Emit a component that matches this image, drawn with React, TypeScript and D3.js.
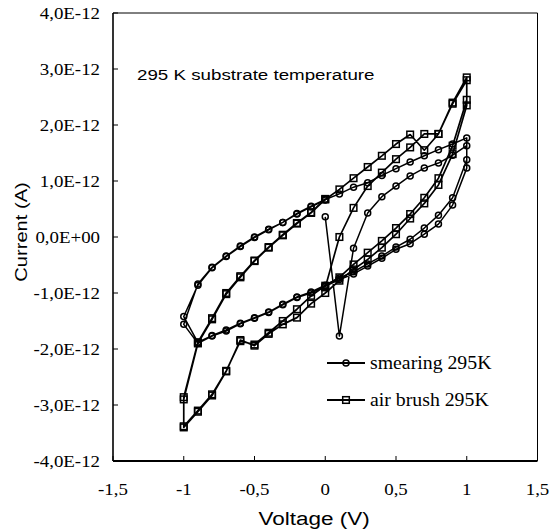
import React from "react";
import * as d3 from "d3";

// ---- data (current in units of 1e-12 A) ----
const smearingVoltage = [
  0, 0.1, 0.2, 0.3, 0.4, 0.5, 0.6, 0.7, 0.8, 0.9, 1.0,
  1.0, 0.9, 0.8, 0.7, 0.6, 0.5, 0.4, 0.3, 0.2, 0.1, 0, -0.1, -0.2, -0.3, -0.4, -0.5, -0.6, -0.7, -0.8, -0.9, -1.0,
  -0.9, -0.8, -0.7, -0.6, -0.5, -0.4, -0.3, -0.2, -0.1, 0, 0.1, 0.2, 0.3, 0.4, 0.5, 0.6, 0.7, 0.8, 0.9, 1.0, 1.0,
  0.9, 0.8, 0.7, 0.6, 0.5, 0.4, 0.3, 0.2, 0.1, 0, -0.1, -0.2, -0.3, -0.4, -0.5, -0.6, -0.7, -0.8, -0.9, -1.0,
  -0.9, -0.8, -0.7, -0.6, -0.5, -0.4, -0.3, -0.2, -0.1, 0,
];
const smearingCurrent = [
  0.36, -1.77, -0.2, 0.43, 0.72, 0.91, 1.09, 1.23, 1.32, 1.46, 1.63,
  1.23, 0.57, 0.23, 0.05, -0.12, -0.22, -0.38, -0.52, -0.66, -0.76, -0.88, -1.0, -1.08, -1.21, -1.35, -1.45, -1.55, -1.68, -1.77, -1.9, -1.56,
  -0.84, -0.54, -0.34, -0.16, 0.0, 0.14, 0.26, 0.42, 0.55, 0.67, 0.77, 0.89, 0.97, 1.1, 1.22, 1.34, 1.45, 1.56, 1.66, 1.77, 1.38,
  0.7, 0.39, 0.16, -0.04, -0.18, -0.34, -0.48, -0.62, -0.73, -0.86, -0.98, -1.07, -1.2, -1.34, -1.44, -1.54, -1.66, -1.76, -1.88, -1.42,
  -0.86, -0.55, -0.35, -0.17, -0.01, 0.13, 0.26, 0.41, 0.54, 0.66,
];
const airBrushVoltage = [
  0, 0.1, 0.2, 0.3, 0.4, 0.5, 0.6, 0.7, 0.8, 0.9, 1.0, 1.0,
  0.9, 0.8, 0.7, 0.6, 0.5, 0.4, 0.3, 0.2, 0.1, 0, -0.1, -0.2, -0.3, -0.4, -0.5, -0.6, -0.7, -0.8, -0.9, -1.0, -1.0,
  -0.9, -0.8, -0.7, -0.6, -0.5, -0.4, -0.3, -0.2, -0.1, 0, 0.1, 0.2, 0.3, 0.4, 0.5, 0.6, 0.7, 0.8, 0.9, 1.0, 1.0,
  0.9, 0.8, 0.7, 0.6, 0.5, 0.4, 0.3, 0.2, 0.1, 0, -0.1, -0.2, -0.3, -0.4, -0.5, -0.6, -0.7, -0.8, -0.9, -1.0, -1.0,
  -0.9, -0.8, -0.7, -0.6, -0.5, -0.4, -0.3, -0.2, -0.1, 0,
];
const airBrushCurrent = [
  -0.9, 0.0, 0.52, 0.91, 1.15, 1.39, 1.6, 1.84, 1.84, 2.4, 2.85, 2.45,
  1.63, 1.05, 0.7, 0.41, 0.16, -0.07, -0.28, -0.49, -0.72, -0.87, -1.05, -1.29, -1.5, -1.71, -1.92, -1.86, -2.39, -2.81, -3.1, -3.38, -2.9,
  -1.9, -1.47, -1.02, -0.72, -0.43, -0.19, 0.03, 0.24, 0.43, 0.67, 0.85, 1.05, 1.25, 1.45, 1.66, 1.83, 1.55, 1.84, 2.38, 2.8, 2.35,
  1.48, 0.93, 0.6, 0.33, 0.05, -0.19, -0.4, -0.58, -0.78, -1.0, -1.19, -1.44, -1.56, -1.73, -1.94, -1.84, -2.4, -2.83, -3.12, -3.4, -2.86,
  -1.88, -1.45, -1.0, -0.7, -0.42, -0.18, 0.04, 0.25, 0.44, 0.68,
];

const xTickValues = [-1.5, -1, -0.5, 0, 0.5, 1, 1.5];
const xTickLabels = ["-1,5", "-1", "-0,5", "0", "0,5", "1", "1,5"];
const yTickValues = [4, 3, 2, 1, 0, -1, -2, -3, -4];
const yTickLabels = ["4,0E-12", "3,0E-12", "2,0E-12", "1,0E-12", "0,0E+00", "-1,0E-12", "-2,0E-12", "-3,0E-12", "-4,0E-12"];
const seriesNames = ["smearing 295K", "air brush 295K"];
const annotation = "295 K substrate temperature";
const xTitle = "Voltage (V)";
const yTitle = "Current (A)";

const W = 554;
const H = 529;
const plot = { left: 113, right: 537.5, top: 13, bottom: 461 };
const serif = "'Liberation Serif', 'Times New Roman', serif";
const sans = "'Liberation Sans', Arial, sans-serif";
const SX = 1.18;

export default function App() {
  const x = d3.scaleLinear().domain([-1.5, 1.5]).range([plot.left, plot.right]);
  const y = d3.scaleLinear().domain([-4, 4]).range([plot.bottom, plot.top]);

  const smearing = smearingVoltage.map((v, i) => [v, smearingCurrent[i]] as [number, number]);
  const airBrush = airBrushVoltage.map((v, i) => [v, airBrushCurrent[i]] as [number, number]);
  const line = d3.line<[number, number]>().x((d) => x(d[0])).y((d) => y(d[1]));

  const circle = (cx: number, cy: number, key: string | number) => (
    <circle key={key} cx={cx} cy={cy} r={3} fill="none" stroke="#000" strokeWidth={1.5} />
  );
  const square = (cx: number, cy: number, key: string | number) => (
    <rect key={key} x={cx - 3.3} y={cy - 3.3} width={6.6} height={6.6} fill="none" stroke="#000" strokeWidth={1.5} />
  );

  const legendY = [363, 400];
  const legendX0 = 327;
  const legendX1 = 365;

  return (
    <svg width={W} height={H} style={{ position: "absolute", left: 0, top: 0, background: "#fff" }}>
      <rect x={0} y={0} width={W} height={H} fill="#fff" />
      {/* frame */}
      <line x1={plot.left} x2={plot.right} y1={plot.top} y2={plot.top} stroke="#000" strokeWidth={1} />
      <line x1={plot.right} x2={plot.right} y1={plot.top} y2={plot.bottom} stroke="#000" strokeWidth={1} />
      <line x1={plot.left} x2={plot.left} y1={plot.top} y2={plot.bottom} stroke="#000" strokeWidth={1.6} />
      <line x1={plot.left} x2={plot.right} y1={plot.bottom} y2={plot.bottom} stroke="#000" strokeWidth={2} />

      {/* y ticks */}
      {yTickValues.map((v, i) => (
        <g key={"yt" + i}>
          <line x1={plot.left} x2={plot.left + 5} y1={y(v)} y2={y(v)} stroke="#000" strokeWidth={1} />
          <text
            transform={`translate(100,${y(v) + 5.5}) scale(${SX},1)`}
            textAnchor="end"
            fontFamily={serif}
            fontSize={16}
            fill="#000"
          >
            {yTickLabels[i]}
          </text>
        </g>
      ))}
      {/* x ticks */}
      {xTickValues.map((v, i) => (
        <g key={"xt" + i}>
          <line x1={x(v)} x2={x(v)} y1={plot.bottom} y2={plot.bottom - 5} stroke="#000" strokeWidth={1} />
          <text
            transform={`translate(${x(v)},495) scale(${SX},1)`}
            textAnchor="middle"
            fontFamily={serif}
            fontSize={16}
            fill="#000"
          >
            {xTickLabels[i]}
          </text>
        </g>
      ))}

      {/* axis titles */}
      <text transform={`translate(314,525) scale(1.25,1)`} textAnchor="middle" fontFamily={sans} fontSize={18} fill="#000">
        {xTitle}
      </text>
      <text transform={`translate(27,232) rotate(-90) scale(1.22,1)`} textAnchor="middle" fontFamily={sans} fontSize={16.5} fill="#000">
        {yTitle}
      </text>

      {/* annotation */}
      <text transform={`translate(137,80) scale(1.25,1)`} fontFamily={sans} fontSize={15} fill="#000">
        {annotation}
      </text>

      {/* series */}
      <path d={line(smearing) ?? ""} fill="none" stroke="#000" strokeWidth={1.5} strokeLinejoin="round" />
      <path d={line(airBrush) ?? ""} fill="none" stroke="#000" strokeWidth={1.7} strokeLinejoin="round" />
      {smearing.map((d, i) => circle(x(d[0]), y(d[1]), "c" + i))}
      {airBrush.map((d, i) => square(x(d[0]), y(d[1]), "s" + i))}

      {/* legend */}
      {seriesNames.map((name, i) => (
        <g key={"lg" + i}>
          <line x1={legendX0} x2={legendX1} y1={legendY[i]} y2={legendY[i]} stroke="#000" strokeWidth={2} />
          {i === 0
            ? circle((legendX0 + legendX1) / 2, legendY[i], "lc")
            : square((legendX0 + legendX1) / 2, legendY[i], "ls")}
          <text
            transform={`translate(370,${legendY[i] + 6}) scale(1.1,1)`}
            fontFamily={serif}
            fontSize={18}
            fill="#000"
          >
            {name}
          </text>
        </g>
      ))}
    </svg>
  );
}
